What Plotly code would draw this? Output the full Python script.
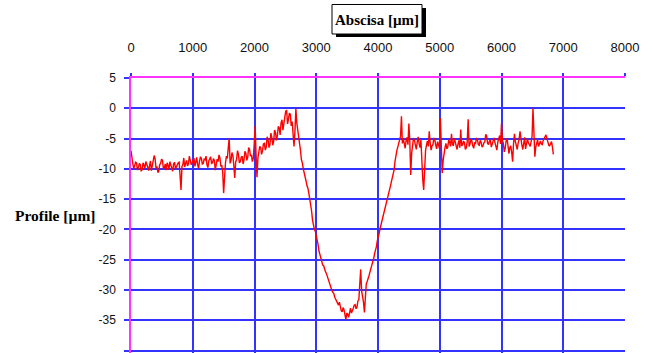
import plotly.graph_objects as go

# Profile samples, one every SAMPLE_STEP_UM micrometres starting at 0
# (each row below covers 300 um)
SAMPLE_STEP_UM = 15
profile_um = [
    -7.0, -8.6, -9.2, -10.0, -9.6, -8.9, -9.0, -10.2, -9.8, -9.1, -9.3, -10.4, -10.1, -9.0, -9.4, -9.9, -8.8, -9.5, -9.7, -10.3,
    -9.2, -8.7, -10.3, -9.5, -9.0, -7.8, -8.3, -9.9, -9.6, -10.6, -10.4, -9.3, -9.1, -8.4, -8.6, -10.0, -9.8, -9.2, -10.2, -9.0,
    -9.4, -10.1, -8.8, -9.3, -9.9, -10.4, -9.2, -8.9, -10.0, -9.6, -9.5, -9.0, -8.9, -10.8, -13.5, -9.6, -9.3, -8.2, -9.7, -9.1,
    -8.6, -9.5, -9.2, -7.9, -8.4, -9.3, -9.0, -8.5, -8.2, -9.6, -8.9, -8.1, -9.4, -9.9, -8.7, -8.0, -8.3, -9.2, -9.1, -8.4,
    -8.5, -7.9, -9.3, -9.8, -8.7, -8.2, -8.0, -9.1, -9.0, -8.3, -8.6, -10.2, -9.5, -8.4, -8.8, -7.7, -8.2, -9.6, -9.4, -10.5,
    -14.0, -10.8, -9.0, -7.9, -8.3, -6.5, -5.0, -9.1, -8.6, -7.3, -7.8, -9.4, -11.5, -8.9, -8.4, -7.0, -7.6, -9.0, -8.8, -8.1,
    -7.9, -9.2, -8.5, -7.1, -7.4, -8.6, -8.1, -6.5, -6.8, -7.9, -7.7, -8.8, -8.3, -6.0, -2.9, -7.5, -11.4, -8.2, -7.2, -6.3,
    -6.5, -7.6, -7.0, -5.9, -5.8, -6.9, -6.4, -4.7, -5.2, -6.5, -6.0, -4.1, -4.8, -6.1, -5.5, -3.6, -4.0, -5.3, -4.6, -3.0,
    -3.2, -4.4, -2.4, -1.9, -3.6, -2.5, -1.5, -0.5, -0.3, -2.6, -1.8, -0.8, -1.0, -2.9, -2.2, -5.0, -6.3, -3.8, -0.1, -2.4,
    -3.5, -4.9, -5.2, -7.0, -8.5, -9.0, -10.0, -10.9, -11.5, -12.0, -12.8, -13.2, -14.0, -14.8, -15.8, -17.0, -18.5, -19.4, -20.0, -20.3,
    -21.0, -21.6, -22.5, -23.6, -24.3, -24.6, -25.2, -25.9, -26.0, -26.8, -27.0, -27.3, -27.8, -28.4, -28.6, -29.3, -29.5, -30.1, -30.4, -30.6,
    -31.2, -31.5, -31.9, -32.3, -32.5, -32.0, -32.8, -33.4, -33.6, -32.9, -33.3, -34.2, -34.9, -33.8, -34.0, -34.5, -33.5, -33.0, -33.8, -33.2,
    -33.0, -32.5, -32.4, -33.1, -32.8, -31.8, -31.6, -29.0, -26.6, -30.2, -31.0, -32.0, -33.7, -30.5, -29.0, -28.6, -28.2, -27.6, -27.0, -26.5,
    -25.8, -25.4, -24.8, -24.0, -23.5, -22.8, -21.8, -21.3, -20.6, -19.8, -19.2, -18.7, -18.0, -17.5, -16.7, -16.0, -15.6, -15.0, -14.5, -13.6,
    -12.9, -12.2, -11.5, -11.0, -10.2, -8.8, -7.6, -7.0, -6.4, -5.9, -5.4, -4.6, -1.3, -5.8, -5.0, -6.2, -6.6, -5.3, -4.8, -6.0,
    -2.5, -5.5, -11.0, -7.4, -6.2, -4.9, -5.3, -6.0, -6.8, -5.6, -4.7, -5.8, -6.5, -5.2, -9.0, -11.8, -13.5, -9.2, -7.0, -6.1,
    -5.4, -6.3, -3.8, -5.7, -6.9, -6.2, -6.0, -4.9, -5.2, -6.1, -6.7, -5.5, -6.0, -6.6, -1.6, -6.4, -10.7, -8.6, -7.2, -6.5,
    -5.8, -6.7, -6.4, -5.2, -5.6, -6.3, -4.2, -5.9, -6.2, -5.0, -5.5, -6.4, -6.8, -5.9, -5.3, -6.5, -3.5, -6.2, -6.0, -5.4,
    -5.7, -6.8, -6.5, -5.5, -1.8, -6.3, -5.9, -5.1, -5.4, -6.2, -6.6, -5.7, -5.8, -4.9, -5.2, -6.0, -6.1, -5.3, -5.6, -6.4,
    -6.2, -5.7, -5.5, -4.3, -4.6, -5.8, -6.0, -5.4, -5.3, -6.4, -5.9, -5.2, -4.9, -5.7, -6.3, -6.9, -5.6, -4.8, -4.5, -5.9,
    -2.5, -5.3, -5.8, -7.2, -6.6, -5.4, -5.0, -6.1, -7.5, -6.5, -6.2, -7.3, -8.8, -5.8, -4.2, -5.5, -6.4, -6.8, -5.7, -5.1,
    -3.8, -5.5, -6.1, -6.8, -5.4, -4.8, -6.7, -6.0, -5.0, -5.7, -6.0, -6.3, -5.5, -4.6, 0.0, -3.5, -8.0, -6.4, -5.8, -5.2,
    -6.3, -5.8, -5.4, -5.9, -6.0, -5.3, -5.1, -4.7, -4.4, -5.0, -5.6, -6.1, -6.2, -5.8, -5.5, -6.4, -7.6,
]

x_ticks = [0, 1000, 2000, 3000, 4000, 5000, 6000, 7000, 8000]
y_ticks = [5, 0, -5, -10, -15, -20, -25, -30, -35, -40]

x_title = "Abscisa [µm]"
y_title = "Profile [µm]"

BLUE = "#3333ff"
MAGENTA = "#ff33ff"

# Figure fills the whole window (the page's body margin is removed below).
W, H = 653, 353
ML, MR, MT, MB = 131, 28, 78, 0
PW, PH = W - ML - MR, H - MT - MB


def px(x):
    # window pixel -> paper fraction
    return (x - ML) / PW


def py(y):
    return (H - MB - y) / PH


fig = go.Figure()
fig.add_trace(go.Scatter(
    x0=0, dx=SAMPLE_STEP_UM, y=profile_um,
    mode="lines", line=dict(color="#ff0000", width=1.4),
    showlegend=False, hoverinfo="skip",
))

fig.update_layout(
    width=W, height=H,
    margin=dict(l=ML, r=MR, t=MT, b=MB),
    paper_bgcolor="white", plot_bgcolor="white",
    font=dict(family="Liberation Sans, Arial, sans-serif", color="#111111"),
)
fig.update_xaxes(
    side="top", range=[0, 8000], tickvals=x_ticks,
    ticktext=[str(v) for v in x_ticks], automargin=False,
    showgrid=True, gridcolor=BLUE, gridwidth=1.5,
    zeroline=False, showline=True, linecolor=MAGENTA, linewidth=1.5,
    ticks="outside", ticklen=3, tickcolor=BLUE, tickwidth=1.5,
    tickfont=dict(size=13), ticklabelstandoff=16,
)
fig.update_yaxes(
    range=[-40.4, 5], tickvals=y_ticks,
    ticktext=[str(v) for v in y_ticks], automargin=False,
    showgrid=True, gridcolor=BLUE, gridwidth=1.5,
    zeroline=False, showline=True, linecolor=MAGENTA, linewidth=1.5,
    ticks="outside", ticklen=5, tickcolor=BLUE, tickwidth=1.5,
    tickfont=dict(size=12), ticklabelstandoff=6,
)

title_font = dict(family="Liberation Serif, Times New Roman, serif", size=15, color="black")
# boxed x title with drop shadow
fig.add_shape(type="rect", xref="paper", yref="paper",
              x0=px(336), x1=px(426), y0=py(37), y1=py(8),
              fillcolor="black", line=dict(width=0), layer="above")
fig.add_shape(type="rect", xref="paper", yref="paper",
              x0=px(332), x1=px(422), y0=py(34), y1=py(4.5),
              fillcolor="white", line=dict(color="black", width=1), layer="above")
fig.add_annotation(
    x=px(377), xref="paper", y=py(19.5), yref="paper",
    xanchor="center", yanchor="middle",
    text="<b>" + x_title + "</b>", showarrow=False, font=title_font,
)
fig.add_annotation(
    x=px(55), xref="paper", y=py(215), yref="paper",
    xanchor="center", yanchor="middle",
    text="<b>" + y_title + "</b>", showarrow=False,
    font=dict(family=title_font["family"], size=15.5, color="black"),
)

fig.write_html(
    "out.html",
    config={"displayModeBar": False},
    post_script="document.body.style.margin='0';document.body.style.overflow='hidden';",
)
